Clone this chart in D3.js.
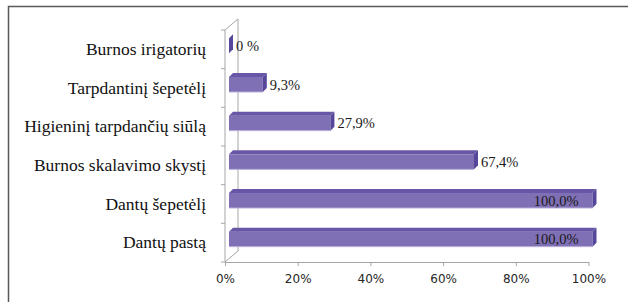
<!DOCTYPE html>
<html>
  <head>
    <meta charset="UTF-8">
    <title>chart</title>
    <script src="https://d3js.org/d3.v7.min.js"></script>
    <style>
      body { margin: 0; background: #fff; }
      svg { display: block; }
      .serif { font-family: "Liberation Serif", "Times New Roman", serif; }
    </style>
  </head>

  <body>
    <div class="chart"></div>

    <script type="application/javascript">
      const categories = ["Burnos irigatorių", "Tarpdantinį šepetėlį", "Higieninį tarpdančių siūlą",
                          "Burnos skalavimo skystį", "Dantų šepetėlį", "Dantų pastą"];
      const values = [0, 9.3, 27.9, 67.4, 100, 100];
      const valueLabels = ["0 %", "9,3%", "27,9%", "67,4%", "100,0%", "100,0%"];
      const xTicks = [0, 20, 40, 60, 80, 100];

      const width = 628, height = 302;
      const svg = d3.select(".chart").append("svg")
              .attr("width", width)
              .attr("height", height);

      // frame (only top and left edges show in the crop)
      svg.append("path")
              .attr("d", `M8.5,302 V6.5 H628`)
              .attr("fill", "none")
              .attr("stroke", "#595959")
              .attr("stroke-width", 1.5);

      const x = d3.scaleLinear().domain([0, 100]).range([225, 588.5]);
      const y = d3.scaleBand().domain(categories).range([30, 262]);
      const depth = {dx: 13, dy: -11};

      // back wall edges
      const x0 = x(0), yTop = y.range()[0], yBot = y.range()[1];
      svg.append("path")
              .attr("d", `M${x0},${yTop} L${x0 + depth.dx},${yTop + depth.dy} V${yBot + depth.dy} L${x0},${yBot}`)
              .attr("fill", "none")
              .attr("stroke", "#a6a6a6")
              .attr("stroke-width", 1);

      // left axis line with ticks at band edges
      svg.append("line")
              .attr("x1", x0).attr("x2", x0)
              .attr("y1", yTop).attr("y2", yBot)
              .attr("stroke", "#a6a6a6");
      const edges = categories.map(c => y(c)).concat([yBot]);
      svg.selectAll(".ytick").data(edges).join("line")
              .attr("class", "ytick")
              .attr("x1", x0 - 4).attr("x2", x0)
              .attr("y1", d => d).attr("y2", d => d)
              .attr("stroke", "#a6a6a6");

      // bottom axis
      const axis = d3.axisBottom(x)
              .tickValues(xTicks)
              .tickFormat(d => d + "%")
              .tickSize(4)
              .tickSizeOuter(0);
      const ax = svg.append("g")
              .attr("transform", `translate(0,${yBot})`)
              .call(axis);
      ax.select(".domain").attr("stroke", "#a6a6a6");
      ax.selectAll(".tick line").attr("stroke", "#a6a6a6");
      ax.selectAll(".tick text")
              .attr("y", 12)
              .attr("fill", "#262626")
              .attr("font-family", "'DejaVu Sans', sans-serif")
              .attr("font-size", 12);

      // category labels
      svg.selectAll(".cat").data(categories).join("text")
              .attr("class", "cat serif")
              .attr("x", 206)
              .attr("y", d => y(d) + y.bandwidth() / 2)
              .attr("dy", "0.33em")
              .attr("text-anchor", "end")
              .attr("fill", "#111")
              .attr("font-size", 17.5)
              .text(d => d);

      // 3D bars
      const off = 4, t = 4, h = 15;
      const rows = categories.map((c, i) => ({c, v: values[i], label: valueLabels[i]}));
      const bar = svg.selectAll(".bar").data(rows).join("g").attr("class", "bar");
      const fx0 = x(0) + off;
      const fy = d => y(d.c) + y.bandwidth() / 2 - 11;
      const fx1 = d => x(d.v) + off;

      bar.append("rect")
              .attr("x", fx0)
              .attr("y", fy)
              .attr("width", d => fx1(d) - fx0)
              .attr("height", h)
              .attr("fill", "#7f6fb4");
      bar.append("line")
              .attr("x1", fx0).attr("x2", fx1)
              .attr("y1", d => fy(d) + h).attr("y2", d => fy(d) + h)
              .attr("stroke", "#b9afd9")
              .attr("stroke-width", 1);
      bar.append("path")
              .attr("d", d => `M${fx0},${fy(d)} L${fx0 + t},${fy(d) - t} L${fx1(d) + t},${fy(d) - t} L${fx1(d)},${fy(d)} Z`)
              .attr("fill", "#6857a6");
      bar.append("path")
              .attr("d", d => `M${fx1(d)},${fy(d)} L${fx1(d) + t},${fy(d) - t} L${fx1(d) + t},${fy(d) - t + h} L${fx1(d)},${fy(d) + h} Z`)
              .attr("fill", "#57479a");

      // value labels
      bar.append("text")
              .attr("class", "serif")
              .attr("x", d => d.v >= 100 ? fx1(d) - 14 : fx1(d) + t + 3)
              .attr("y", d => fy(d) + h / 2)
              .attr("dy", "0.35em")
              .attr("text-anchor", d => d.v >= 100 ? "end" : "start")
              .attr("fill", "#1a1a1a")
              .attr("font-size", 14.5)
              .text(d => d.label);
    </script>
  </body>
</html>
